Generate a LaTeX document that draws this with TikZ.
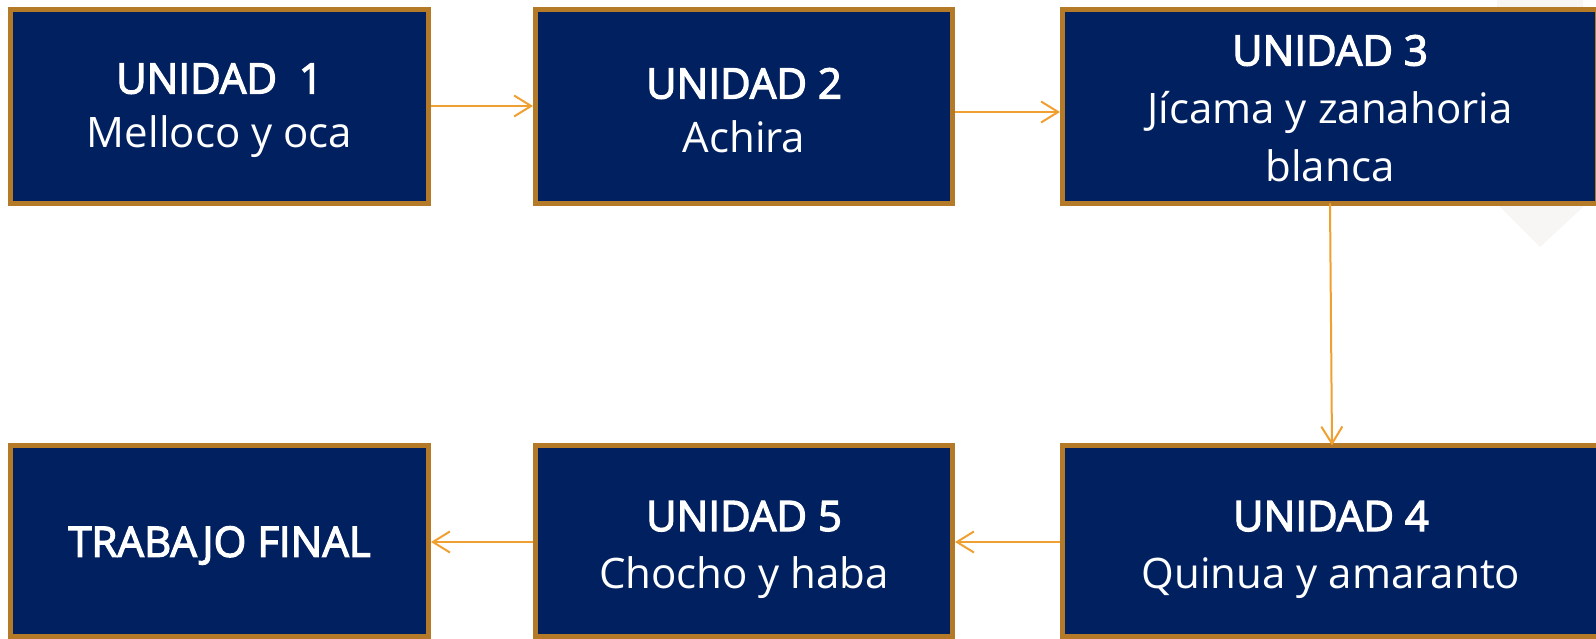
\documentclass[tikz,border=0pt]{standalone}
\usepackage{fontspec}
\setmainfont{Open Sans}
\usetikzlibrary{arrows.meta}
\definecolor{navy}{HTML}{00205F}
\definecolor{gold}{HTML}{B47A28}
\definecolor{arr}{HTML}{F0A030}
\definecolor{faint}{HTML}{F8F5F5}
\tikzset{
  unitbox/.style={draw=gold, line width=5pt, fill=navy, inner sep=0pt},
  txt/.style={text=white, inner sep=0pt, align=center, font=\fontsize{42}{54}\selectfont},
  txtb/.style={txt, font=\fontsize{42}{57}\selectfont},
  txtc/.style={txt, font=\fontsize{42}{58}\selectfont},
  flow/.style={draw=arr, line width=2pt, -{Straight Barb[length=17pt,width=21pt,line width=2pt]}}
}
\newcommand{\hdr}[1]{{\addfontfeature{FakeBold=3}#1}}
\begin{document}
\begin{tikzpicture}[x=1pt,y=1pt]
\useasboundingbox (0,0) rectangle (1596,639);
\fill[white] (0,0) rectangle (1596,639);
% faint background shape
\fill[faint] (1497,639) -- (1500,432) -- (1540,392) -- (1583,432) -- (1583,639) -- cycle;
% boxes (y measured from bottom: y = 639 - pixel)
\node[unitbox, minimum width=418pt, minimum height=194pt] (u1) at (219.5, 532.5) {};
\node[unitbox, minimum width=417pt, minimum height=194pt] (u2) at (744, 532.5) {};
\node[unitbox, minimum width=535pt, minimum height=194pt] (u3) at (1330, 532.5) {};
\node[unitbox, minimum width=538pt, minimum height=191pt] (u4) at (1331, 97.5) {};
\node[unitbox, minimum width=417pt, minimum height=191pt] (u5) at (744, 97.5) {};
\node[unitbox, minimum width=418pt, minimum height=191pt] (tf) at (219.5, 97.5) {};
% texts
\node[txt, yshift=-4pt] (u1t) at (u1) {\hdr{UNIDAD\ \ 1}\\Melloco y oca};
\node[txt, yshift=-4pt] (u2t) at (u2) {\hdr{UNIDAD 2}\\Achira};
\node[txtc, yshift=-2pt] (u3t) at (u3) {\hdr{UNIDAD 3}\\Jícama y zanahoria\\blanca};
\node[txtb, yshift=-8pt] (u4t) at (u4) {\hdr{UNIDAD 4}\\Quinua y amaranto};
\node[txtb, yshift=-8pt] (u5t) at (u5) {\hdr{UNIDAD 5}\\Chocho y haba};
\node[txt, yshift=-4pt] (tft) at (tf) {\hdr{TRABAJO FINAL}};
% connectors
\draw[flow] (u1.east |- 0,533) -- (u2.west |- 0,533);
\draw[flow] (u2.east |- 0,527) -- (u3.west |- 0,527);
\draw[flow] (1330,435.5) -- (1332,193.5);
\draw[flow] (u4.west |- 0,97) -- (u5.east |- 0,97);
\draw[flow] (u5.west |- 0,97) -- (tf.east |- 0,97);
\end{tikzpicture}
\end{document}
